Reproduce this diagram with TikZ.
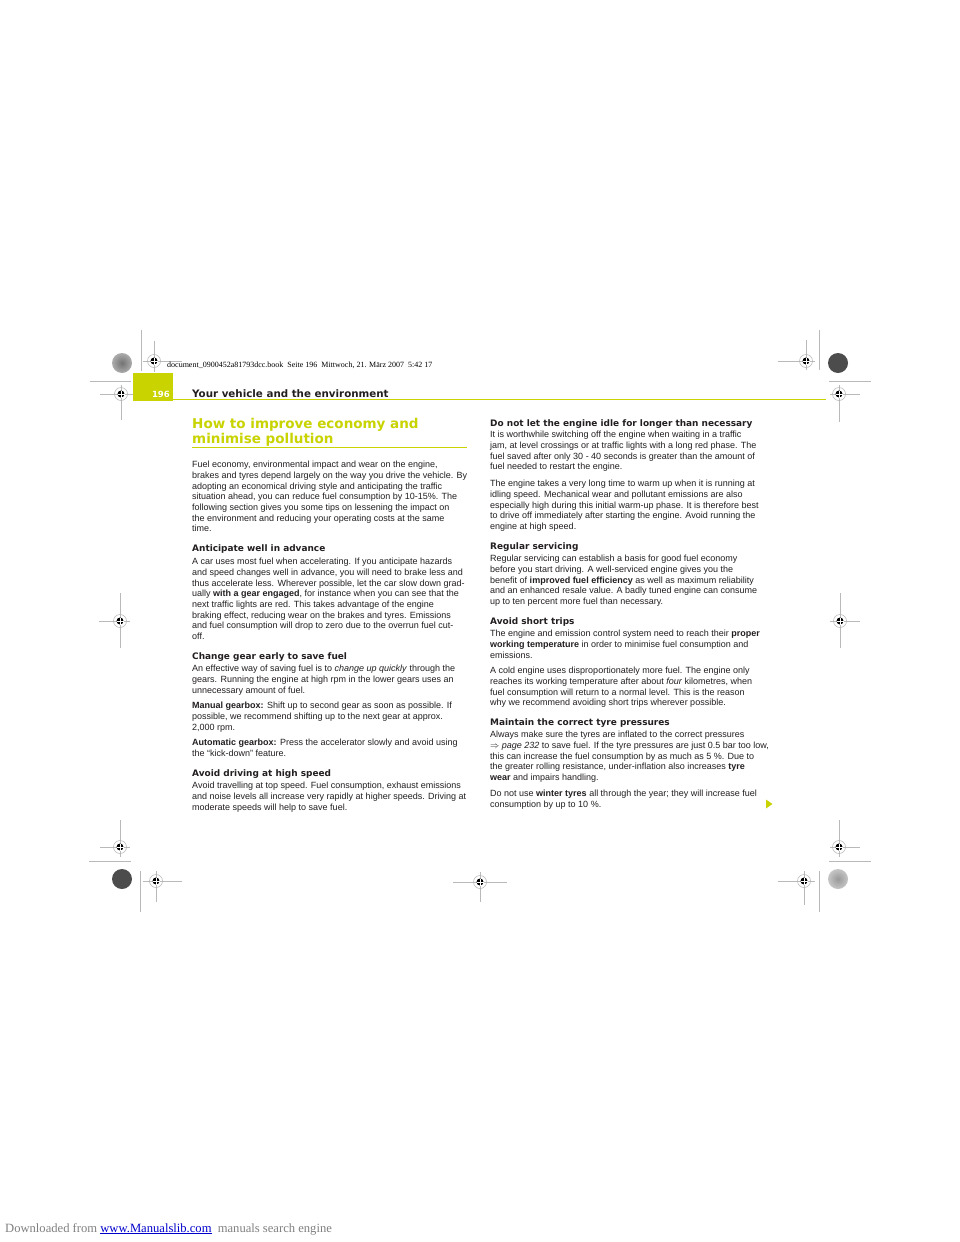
\documentclass[tikz,border=0pt]{standalone}
\usepackage{fontspec}
\setmainfont{Liberation Sans}
\newfontfamily\headfont{DejaVu Sans}
\newfontfamily\metafont{Liberation Serif}
\definecolor{audilime}{RGB}{200,211,0}
\definecolor{pagetext}{RGB}{35,31,32}
\newcommand{\bodyfont}{\fontsize{9}{10.7}\selectfont}

\begin{document}
\begin{tikzpicture}[x=1pt, y=-1pt,
	para/.style = {anchor=north west, inner sep=0pt, align=left, text=pagetext, font=\bodyfont, execute at begin node=\strut},
	head/.style = {anchor=base west, inner sep=0pt, text=pagetext, font=\headfont\bfseries\fontsize{8.95}{10}\selectfont},
	crop/.style = {draw=gray!55, line width=0.6pt},
	regmark/.pic = {
		\draw[gray!60, line width=0.5pt] (0,0) circle (6.5pt);
		\fill[black] (0,0) circle (3.5pt);
		\draw[white, line width=0.5pt] (-3.5pt,0) -- (3.5pt,0) (0,-3.5pt) -- (0,3.5pt);
	}]
	\useasboundingbox[fill=white] (0,0) rectangle (960,1242);

	% crop marks
	\shade[inner color=gray!90!black, outer color=gray!65] (122,363) circle (10pt);
	\draw[crop] (141,330) -- (141,371);
	\draw[crop] (143,361) -- (182,361) (154,341) -- (154,372);
	\draw[crop] (90,381) -- (131,381);
	\draw[crop] (100,394) -- (134,394) (121,385) -- (121,420);
	\draw[crop] (778,361) -- (815,361) (806,340) -- (806,370);
	\draw[crop] (819,330) -- (819,370);
	\fill[black!70] (838,363) circle (10pt);
	\draw[crop] (829,381) -- (871,381);
	\draw[crop] (830,394) -- (860,394) (839,385) -- (839,422);
	\draw[crop] (99,621) -- (130,621) (120,593) -- (120,648);
	\draw[crop] (830,621) -- (860,621) (840,593) -- (840,648);
	\draw[crop] (100,847) -- (130,847) (120,820) -- (120,857);
	\draw[crop] (89,861) -- (131,861);
	\fill[black!70] (122,879) circle (10pt);
	\draw[crop] (140,871) -- (140,912);
	\draw[crop] (143,881) -- (182,881) (156,871) -- (156,902);
	\draw[crop] (453,882) -- (507,882) (480,872) -- (480,902);
	\draw[crop] (830,847) -- (860,847) (839,820) -- (839,857);
	\draw[crop] (829,861) -- (871,861);
	\draw[crop] (778,881) -- (815,881) (804,871) -- (804,905);
	\draw[crop] (819,871) -- (819,912);
	\shade[inner color=gray!80, outer color=gray!45] (838,879) circle (10pt);
	\foreach \p in {(154,361), (121,394), (806,361), (839,394), (120,621), (840,621), (120,847), (156,881), (480,882), (839,847), (804,881)}
		\pic at \p {regmark};

	\node[anchor=base west, inner sep=0pt, font=\metafont\fontsize{8}{9}\selectfont] (meta) at (167,367)
		{document\_0900452a81793dcc.book\ \ Seite 196\ \ Mittwoch, 21. März 2007\ \ 5:42 17};

	% running head
	\fill[audilime] (133,373) rectangle (173,400.5);
	\draw[audilime, line width=1.3pt] (173,399.8) -- (826,399.8);
	\node[anchor=base east, inner sep=0pt, text=white, font=\headfont\bfseries\fontsize{8.5}{10}\selectfont] (pageno) at (170,397) {196};
	\node[anchor=base west, inner sep=0pt, text=pagetext, font=\headfont\bfseries\fontsize{10.3}{11}\selectfont] (runhead) at (192,397) {Your vehicle and the environment};

	% title
	\node[anchor=north west, inner sep=0pt, align=left, text=audilime, font=\headfont\bfseries\fontsize{13.5}{15}\selectfont, execute at begin node=\strut] (title) at (192,418)
		{How to improve economy and\\minimise pollution};
	\draw[audilime, line width=1.1pt] (192,447.5) -- (467,447.5);

	% left column
	\node[para] (intro) at (192,461)
		{Fuel economy, environmental impact and wear on the engine,\\
		brakes and tyres depend largely on the way you drive the vehicle. By\\
		adopting an economical driving style and anticipating the traffic\\
		situation ahead, you can reduce fuel consumption by 10-15\%. The\\
		following section gives you some tips on lessening the impact on\\
		the environment and reducing your operating costs at the same\\
		time.};
	\node[head] (h1) at (192,551.5) {Anticipate well in advance};
	\node[para] (p1) at (192,558)
		{A car uses most fuel when accelerating. If you anticipate hazards\\
		and speed changes well in advance, you will need to brake less and\\
		thus accelerate less. Wherever possible, let the car slow down grad-\\
		ually \textbf{with a gear engaged}, for instance when you can see that the\\
		next traffic lights are red. This takes advantage of the engine\\
		braking effect, reducing wear on the brakes and tyres. Emissions\\
		and fuel consumption will drop to zero due to the overrun fuel cut-\\
		off.};
	\node[head] (h2) at (192,659.5) {Change gear early to save fuel};
	\node[para] (p2) at (192,665)
		{An effective way of saving fuel is to \textit{change up quickly} through the\\
		gears. Running the engine at high rpm in the lower gears uses an\\
		unnecessary amount of fuel.};
	\node[para] (p3) at (192,702)
		{\textbf{Manual gearbox:} Shift up to second gear as soon as possible. If\\
		possible, we recommend shifting up to the next gear at approx.\\
		2,000 rpm.};
	\node[para] (p4) at (192,739)
		{\textbf{Automatic gearbox:} Press the accelerator slowly and avoid using\\
		the “kick-down” feature.};
	\node[head] (h3) at (192,776.5) {Avoid driving at high speed};
	\node[para] (p5) at (192,782)
		{Avoid travelling at top speed. Fuel consumption, exhaust emissions\\
		and noise levels all increase very rapidly at higher speeds. Driving at\\
		moderate speeds will help to save fuel.};

	% right column
	\node[head] (h4) at (490,426) {Do not let the engine idle for longer than necessary};
	\node[para] (p6) at (490,431)
		{It is worthwhile switching off the engine when waiting in a traffic\\
		jam, at level crossings or at traffic lights with a long red phase. The\\
		fuel saved after only 30 - 40 seconds is greater than the amount of\\
		fuel needed to restart the engine.};
	\node[para] (p7) at (490,480)
		{The engine takes a very long time to warm up when it is running at\\
		idling speed. Mechanical wear and pollutant emissions are also\\
		especially high during this initial warm-up phase. It is therefore best\\
		to drive off immediately after starting the engine. Avoid running the\\
		engine at high speed.};
	\node[head] (h5) at (490,549) {Regular servicing};
	\node[para] (p8) at (490,555)
		{Regular servicing can establish a basis for good fuel economy\\
		before you start driving. A well-serviced engine gives you the\\
		benefit of \textbf{improved fuel efficiency} as well as maximum reliability\\
		and an enhanced resale value. A badly tuned engine can consume\\
		up to ten percent more fuel than necessary.};
	\node[head] (h6) at (490,624) {Avoid short trips};
	\node[para] (p9) at (490,630)
		{The engine and emission control system need to reach their \textbf{proper}\\
		\textbf{working temperature} in order to minimise fuel consumption and\\
		emissions.};
	\node[para] (p10) at (490,667)
		{A cold engine uses disproportionately more fuel. The engine only\\
		reaches its working temperature after about \textit{four} kilometres, when\\
		fuel consumption will return to a normal level. This is the reason\\
		why we recommend avoiding short trips wherever possible.};
	\node[head] (h7) at (490,725) {Maintain the correct tyre pressures};
	\node[para] (p11) at (490,731)
		{Always make sure the tyres are inflated to the correct pressures\\
		$\Rightarrow$ \textit{page 232} to save fuel. If the tyre pressures are just 0.5 bar too low,\\
		this can increase the fuel consumption by as much as 5 \%. Due to\\
		the greater rolling resistance, under-inflation also increases \textbf{tyre}\\
		\textbf{wear} and impairs handling.};
	\node[para] (p12) at (490,790)
		{Do not use \textbf{winter tyres} all through the year; they will increase fuel\\
		consumption by up to 10 \%.};
	\fill[audilime] (766,799.5) -- (772.5,804) -- (766,808.5) -- cycle;

	% footer
	\node[anchor=base west, inner sep=0pt, text=gray, font=\metafont\fontsize{12.6}{14}\selectfont] (footer) at (5,1232)
		{Downloaded from \textcolor{blue!80!black}{\underline{www.Manualslib.com}}\ \ manuals search engine};
\end{tikzpicture}
\end{document}
